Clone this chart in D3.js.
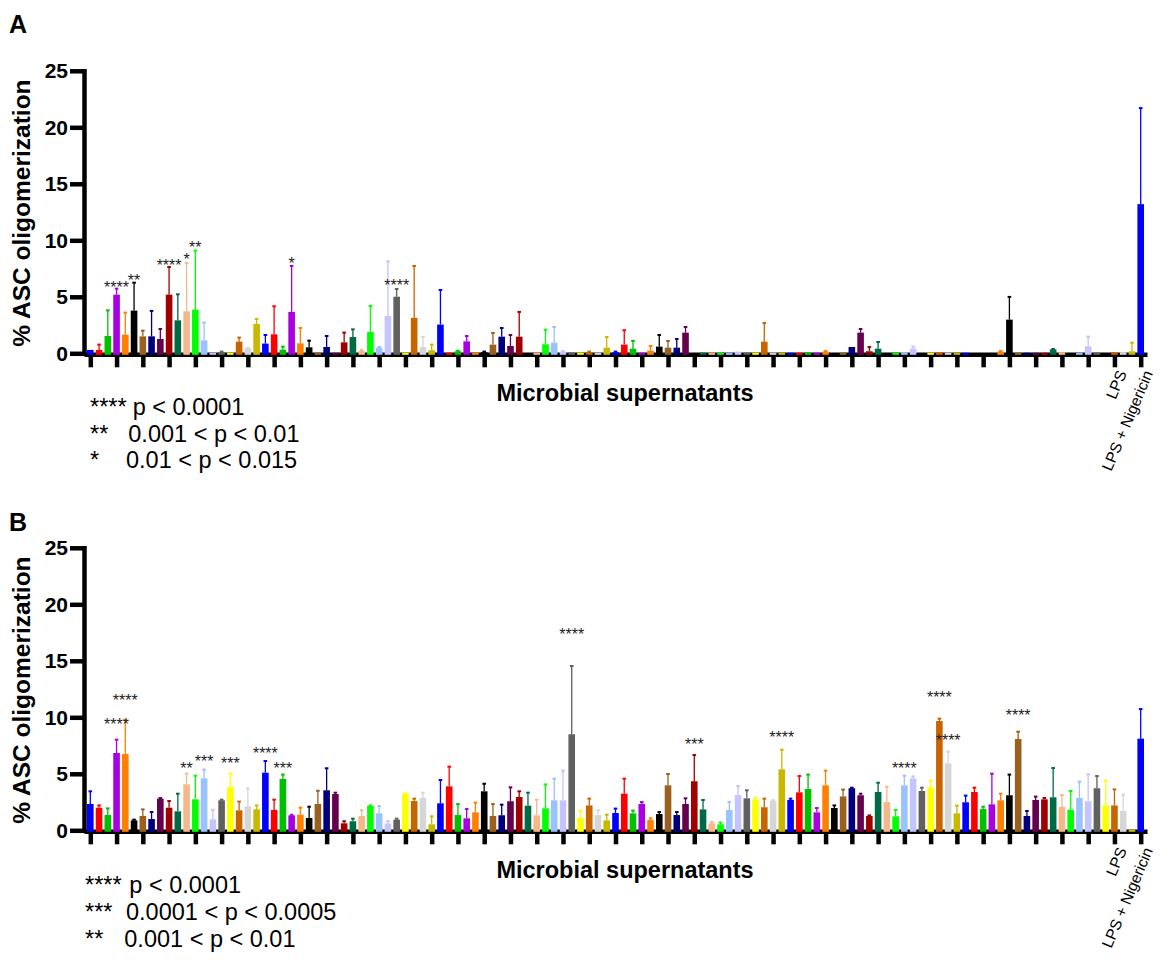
<!DOCTYPE html>
<html>
<head>
<meta charset="utf-8">
<script src="https://cdn.jsdelivr.net/npm/d3@7"></script>
<style>
  body { margin: 0; background: #fff; }
  text { font-family: "Liberation Sans", Arial, sans-serif; }
</style>
</head>
<body>
<svg width="1175" height="971"></svg>
<script>
// 20 colours, repeated across the 121 supernatants
var palette = ["#0000ff", "#ff0000", "#00c000", "#a800e0", "#ff8000", "#000000", "#996020", "#00007f", "#65004f", "#a00000",
  "#006a45", "#f5b888", "#00ff00", "#99c2ff", "#c4c4ff", "#606060", "#ffff00", "#c86400", "#d6d6d6", "#c8b800"];

var meansA = [0.3, 0.3, 1.53, 5.19, 1.65, 3.78, 1.5, 1.5, 1.27, 5.19,
  2.92, 3.72, 3.86, 1.15, 0.05, 0.1, 0.05, 1.03, 0.44, 2.6,
  0.86, 1.68, 0.32, 3.66, 0.88, 0.53, 0.05, 0.56, 0.05, 0.97,
  1.44, 0.2, 1.89, 0.5, 3.3, 5.01, 0.05, 3.13, 0.56, 0.27,
  2.54, 0.05, 0.18, 1.06, 0.05, 0.1, 0.77, 1.47, 0.65, 1.47,
  0, 0.05, 0.8, 0.94, 0.15, 0.05, 0.05, 0.1, 0.05, 0.5,
  0.1, 0.77, 0.41, 0.05, 0.24, 0.59, 0.5, 0.5, 1.83, 0,
  0.05, 0.05, 0.05, 0.05, 0.15, 0.05, 0.05, 1.03, 0.05, 0.05,
  0.05, 0.05, 0.08, 0.05, 0.15, 0, 0.05, 0.56, 1.83, 0.18,
  0.41, 0, 0.05, 0.1, 0.41, 0, 0.05, 0.1, 0.05, 0.05,
  0.05, 0, 0, 0, 0.15, 2.98, 0.05, 0.05, 0.05, 0.05,
  0.35, 0.1, 0, 0.05, 0.62, 0.05, 0, 0.1, 0.1, 0.18,
  13.2];
var semA = [0, 0.47, 2.27, 0.53, 1.95, 2.47, 0.5, 2.25, 0.88, 2.45,
  2.3, 4.28, 5.23, 1.56, 0, 0.05, 0, 0.36, 0.05, 0.44,
  0.76, 2.48, 0.27, 4.07, 1.36, 0.59, 0, 0.97, 0, 0.86,
  0.68, 0.1, 2.3, 0.06, 4.84, 0.68, 0, 4.6, 0.88, 0.5,
  3.06, 0, 0.05, 0.47, 0, 0.05, 1.03, 0.77, 0.97, 2.19,
  0, 0, 1.29, 1.39, 0.05, 0, 0, 0.05, 0, 0.94,
  0.05, 1.27, 0.68, 0, 0.41, 1.03, 0.59, 0.77, 0.5, 0,
  0, 0, 0, 0, 0, 0, 0, 1.65, 0, 0,
  0, 0, 0, 0, 0.05, 0, 0, 0, 0.32, 0.38,
  0.59, 0, 0, 0, 0.18, 0, 0, 0, 0, 0,
  0, 0, 0, 0, 0.05, 2.01, 0, 0, 0, 0,
  0.03, 0, 0, 0, 0.85, 0, 0, 0, 0, 0.76,
  8.5];

var meansB = [2.33, 2.0, 1.35, 6.84, 6.75, 0.88, 1.27, 1.0, 2.8, 2.0,
  1.68, 4.07, 2.74, 4.6, 0.97, 2.65, 3.83, 1.77, 2.12, 1.86,
  5.1, 1.8, 4.54, 1.32, 1.38, 1.09, 2.33, 3.54, 3.21, 0.62,
  0.8, 1.27, 2.15, 1.5, 0.6, 0.94, 3.21, 2.59, 2.86, 0.53,
  2.39, 3.89, 1.35, 1.06, 1.59, 3.45, 1.27, 1.33, 2.57, 2.95,
  2.18, 1.33, 1.95, 2.65, 2.65, 8.5, 1.09, 2.2, 1.35, 0.88,
  1.53, 3.24, 1.5, 2.33, 0.91, 1.44, 3.98, 1.35, 2.33, 4.34,
  1.85, 0.62, 0.53, 1.8, 3.12, 2.83, 2.74, 2.04, 2.6, 5.4,
  2.68, 3.36, 3.65, 1.59, 3.98, 1.97, 3.0, 3.72, 3.1, 1.27,
  3.39, 2.5, 1.24, 3.98, 4.6, 3.48, 3.8, 9.67, 5.93, 1.5,
  2.48, 3.39, 1.88, 2.3, 2.65, 3.1, 8.08, 1.27, 2.68, 2.74,
  2.92, 2.06, 1.82, 2.86, 2.57, 3.72, 2.2, 2.2, 1.71, 0.05,
  8.11];
var semB = [1.12, 0.2, 0.59, 1.18, 3.01, 0.06, 0.58, 0.62, 0.05, 0.59,
  1.56, 0.94, 2.09, 0.77, 0.85, 0.06, 1.18, 0.77, 1.59, 0.34,
  1.03, 0.91, 0.39, 0.05, 0.62, 1.0, 1.17, 1.95, 0.12, 0.18,
  0.23, 0.5, 0.05, 0.65, 0.2, 0.09, 0.05, 0.21, 0.47, 0.71,
  2.06, 1.74, 0.97, 0.82, 0.86, 0.67, 1.05, 0.94, 1.23, 0.5,
  1.15, 1.38, 2.11, 1.92, 2.63, 6.04, 0.65, 0.6, 0.42, 0.5,
  0.39, 1.33, 0.24, 0.17, 0.15, 0.18, 1.0, 0.27, 0.5, 2.32,
  0.83, 0.12, 0.15, 0.7, 0.8, 0.71, 0.15, 0.76, 0.08, 1.73,
  0.12, 1.44, 1.28, 0.38, 1.3, 0.23, 0.6, 0.05, 0.14, 0.05,
  0.82, 1.36, 0.56, 0.85, 0.17, 0.29, 0.6, 0.21, 1.03, 0.68,
  0.59, 0.38, 0.21, 2.71, 0.59, 1.83, 0.65, 0.44, 0.3, 0.12,
  2.59, 1.06, 1.66, 1.44, 2.38, 1.08, 2.2, 1.42, 1.44, 0,
  2.62];

var yTicks = [0, 5, 10, 15, 20, 25];
var tickLabelBars = [117, 120];
var tickLabelText = ["LPS", "LPS + Nigericin"];

// significance marks: bar index, text, height (in % units) of the mark centre
var starBarsA = [3, 5, 9, 11, 12, 23, 35];
var starTextA = ["****", "**", "****", "*", "**", "*", "****"];
var starLevelA = [6.1, 6.73, 8.05, 8.58, 9.65, 8.23, 6.28];
var starBarsB = [3, 4, 11, 13, 16, 20, 22, 55, 69, 79, 93, 97, 98, 106];
var starTextB = ["****", "****", "**", "***", "***", "****", "***", "****", "***", "****", "****", "****", "****", "****"];
var starLevelB = [9.67, 11.82, 5.75, 6.37, 6.19, 7.08, 5.75, 17.66, 7.88, 8.5, 5.75, 12.04, 8.23, 10.44];

var legendStarsA = ["****", "**", "*"];
var legendTextA = ["p < 0.0001", "0.001 < p < 0.01", "0.01 < p < 0.015"];
var legendStarsB = ["****", "***", "**"];
var legendTextB = ["p < 0.0001", "0.0001 < p < 0.0005", "0.001 < p < 0.01"];

var svg = d3.select("svg");
svg.append("rect").attr("width", 1175).attr("height", 971).attr("fill", "#fff");

function drawPanel(p) {
  var g = svg.append("g");
  var n = p.means.length;

  var x = d3.scalePoint()
    .domain(d3.range(n))
    .range([84, 1147])
    .padding(0.72);
  var y = d3.scaleLinear().domain([0, 25]).range([p.y0, p.y25]);

  // panel letter
  g.append("text")
    .attr("x", 9)
    .attr("y", p.letterY)
    .attr("font-size", 25)
    .attr("font-weight", "bold")
    .text(p.letter);

  // y axis
  var yAxis = g.append("g")
    .attr("transform", "translate(84,0)")
    .call(d3.axisLeft(y).tickValues(yTicks).tickSize(14).tickSizeOuter(0).tickPadding(2));
  yAxis.select(".domain").attr("stroke-width", 4.5).attr("stroke-linecap", "square");
  yAxis.selectAll(".tick line").attr("stroke-width", 4.5);
  yAxis.selectAll(".tick text")
    .attr("font-size", 21)
    .attr("font-weight", "bold")
    .attr("fill", "#000");

  g.append("text")
    .attr("transform", "translate(30," + ((p.y0 + p.y25) / 2 + 1) + ") rotate(-90)")
    .attr("text-anchor", "middle")
    .attr("font-size", 24.5)
    .attr("font-weight", "bold")
    .text("% ASC oligomerization");

  // x axis
  var xAxis = g.append("g")
    .attr("transform", "translate(0," + (p.y0 + 1) + ")")
    .call(d3.axisBottom(x)
      .tickValues(d3.range(0, n, 3))
      .tickSize(13)
      .tickSizeOuter(0)
      .tickFormat(function(i) {
        var k = tickLabelBars.indexOf(i);
        return k < 0 ? "" : tickLabelText[k];
      }));
  xAxis.select(".domain").attr("stroke-width", 4.5);
  xAxis.selectAll(".tick line").attr("stroke-width", 4.5);
  xAxis.selectAll(".tick text")
    .attr("font-size", 15.5)
    .attr("fill", "#000")
    .attr("text-anchor", "end")
    .attr("x", 0)
    .attr("y", 0)
    .attr("dy", 0)
    .attr("transform", "translate(12,19) rotate(-67)");

  g.append("text")
    .attr("x", 625)
    .attr("y", p.y0 + 48)
    .attr("text-anchor", "middle")
    .attr("font-size", 23.5)
    .attr("font-weight", "bold")
    .text("Microbial supernatants");

  // bars
  var bw = 6.6;
  var idx = d3.range(n);
  g.append("g").selectAll("rect")
    .data(idx.filter(function(i) { return p.means[i] > 0; }))
    .join("rect")
    .attr("x", function(i) { return x(i) - bw / 2; })
    .attr("y", function(i) { return y(p.means[i]); })
    .attr("width", bw)
    .attr("height", function(i) { return y(0) - y(p.means[i]) + 1.5; })
    .attr("fill", function(i) { return palette[i % palette.length]; });

  // error bars (upper only)
  var err = g.append("g").selectAll("g")
    .data(idx.filter(function(i) { return p.sem[i] > 0; }))
    .join("g")
    .attr("stroke", function(i) { return palette[i % palette.length]; });
  err.append("line")
    .attr("x1", function(i) { return x(i); })
    .attr("x2", function(i) { return x(i); })
    .attr("y1", function(i) { return y(p.means[i]); })
    .attr("y2", function(i) { return y(p.means[i] + p.sem[i]); })
    .attr("stroke-width", 1.3);
  err.append("line")
    .attr("x1", function(i) { return x(i) - 1.8; })
    .attr("x2", function(i) { return x(i) + 1.8; })
    .attr("y1", function(i) { return y(p.means[i] + p.sem[i]); })
    .attr("y2", function(i) { return y(p.means[i] + p.sem[i]); })
    .attr("stroke-width", 2);

  // significance marks
  g.append("g").selectAll("text")
    .data(d3.range(p.starBars.length))
    .join("text")
    .attr("x", function(k) { return x(p.starBars[k]); })
    .attr("y", function(k) { return y(p.starLevel[k]) + 9; })
    .attr("text-anchor", "middle")
    .attr("font-size", 16)
    .attr("fill", "#222")
    .text(function(k) { return p.starText[k]; });

  // p value key
  var key = g.append("g").selectAll("text")
    .data(d3.range(p.legendStars.length))
    .join("text")
    .attr("font-size", 23.5)
    .attr("fill", "#000");
  key.append("tspan")
    .attr("x", p.legendX)
    .attr("y", function(k) { return p.legendY[k]; })
    .text(function(k) { return p.legendStars[k]; });
  key.append("tspan")
    .attr("x", function(k) { return p.legendTextX[k]; })
    .attr("y", function(k) { return p.legendY[k]; })
    .text(function(k) { return p.legendText[k]; });
}

drawPanel({
  letter: "A", letterY: 33,
  y0: 353.3, y25: 70.8,
  means: meansA, sem: semA,
  starBars: starBarsA, starText: starTextA, starLevel: starLevelA,
  legendStars: legendStarsA, legendText: legendTextA,
  legendX: 90, legendTextX: [132.7, 128.3, 126], legendY: [415, 441.7, 468.3]
});

drawPanel({
  letter: "B", letterY: 531,
  y0: 830.3, y25: 547.8,
  means: meansB, sem: semB,
  starBars: starBarsB, starText: starTextB, starLevel: starLevelB,
  legendStars: legendStarsB, legendText: legendTextB,
  legendX: 85, legendTextX: [129.3, 126, 124.3], legendY: [893, 920, 947]
});
</script>
</body>
</html>
